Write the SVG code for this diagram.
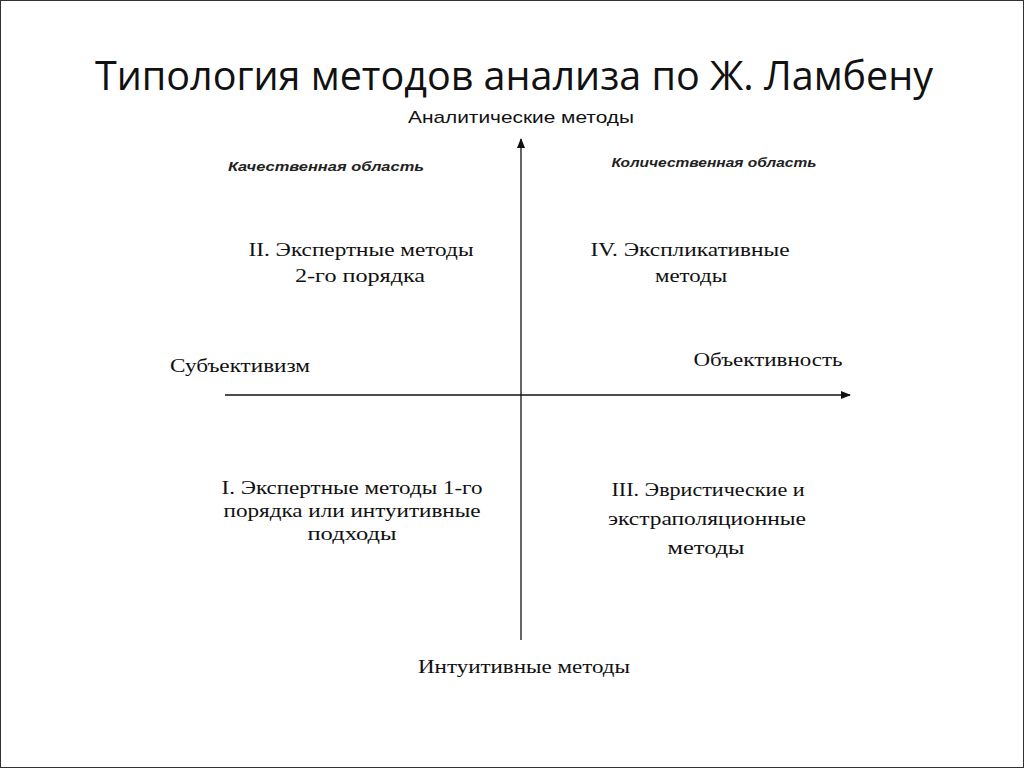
<svg xmlns="http://www.w3.org/2000/svg" width="1024" height="768" viewBox="0 0 1024 768">
<style>
.s{font-family:"Liberation Serif",serif;font-size:19px;fill:#111;text-anchor:middle}
.it{font-family:"Liberation Sans",sans-serif;font-size:13px;font-style:italic;font-weight:bold;fill:#222;text-anchor:middle}
</style>
<defs><marker id="a" markerWidth="10" markerHeight="8" refX="9" refY="4" orient="auto" markerUnits="userSpaceOnUse"><path d="M0,0 L10,4 L0,8 Z" fill="#111"/></marker></defs>
<rect x="0.5" y="0.5" width="1023" height="767" fill="#fff" stroke="#333"/>
<text x="514" y="90" font-family="Open Sans,sans-serif" font-size="39.5" text-anchor="middle" fill="#111">Типология методов анализа по Ж. Ламбену</text>
<g id="connectors" stroke="#111" stroke-width="1.3">
<line x1="521" y1="640" x2="521" y2="139" marker-end="url(#a)"/>
<line x1="225" y1="395" x2="850" y2="395" marker-end="url(#a)"/>
</g>
<g id="top"><text x="521" y="123" font-family="Liberation Sans,sans-serif" font-size="17" text-anchor="middle" fill="#111" textLength="226" lengthAdjust="spacingAndGlyphs">Аналитические методы</text></g>
<g id="bottom"><text class="s" x="524" y="673" textLength="212" lengthAdjust="spacingAndGlyphs">Интуитивные методы</text></g>
<g id="left"><text class="s" x="240" y="372" textLength="140" lengthAdjust="spacingAndGlyphs">Субъективизм</text></g>
<g id="right"><text class="s" x="768" y="366" textLength="149" lengthAdjust="spacingAndGlyphs">Объективность</text></g>
<g id="q1"><text class="it" x="326" y="171" textLength="196" lengthAdjust="spacingAndGlyphs">Качественная область</text></g>
<g id="q2"><text class="it" x="714" y="167" textLength="205" lengthAdjust="spacingAndGlyphs">Количественная область</text></g>
<g id="n2"><text class="s" x="361" y="256" textLength="225" lengthAdjust="spacingAndGlyphs">II. Экспертные методы</text><text class="s" x="360" y="282" textLength="130" lengthAdjust="spacingAndGlyphs">2-го порядка</text></g>
<g id="n4"><text class="s" x="690" y="256" textLength="199" lengthAdjust="spacingAndGlyphs">IV. Экспликативные</text><text class="s" x="691" y="282" textLength="72" lengthAdjust="spacingAndGlyphs">методы</text></g>
<g id="n1"><text class="s" x="352" y="494" textLength="261" lengthAdjust="spacingAndGlyphs">I. Экспертные методы 1-го</text><text class="s" x="352" y="517" textLength="257" lengthAdjust="spacingAndGlyphs">порядка или интуитивные</text><text class="s" x="352" y="540" textLength="89" lengthAdjust="spacingAndGlyphs">подходы</text></g>
<g id="n3"><text class="s" x="708" y="496" textLength="193" lengthAdjust="spacingAndGlyphs">III. Эвристические и</text><text class="s" x="707" y="525" textLength="198" lengthAdjust="spacingAndGlyphs">экстраполяционные</text><text class="s" x="706" y="554" textLength="77" lengthAdjust="spacingAndGlyphs">методы</text></g>
</svg>
